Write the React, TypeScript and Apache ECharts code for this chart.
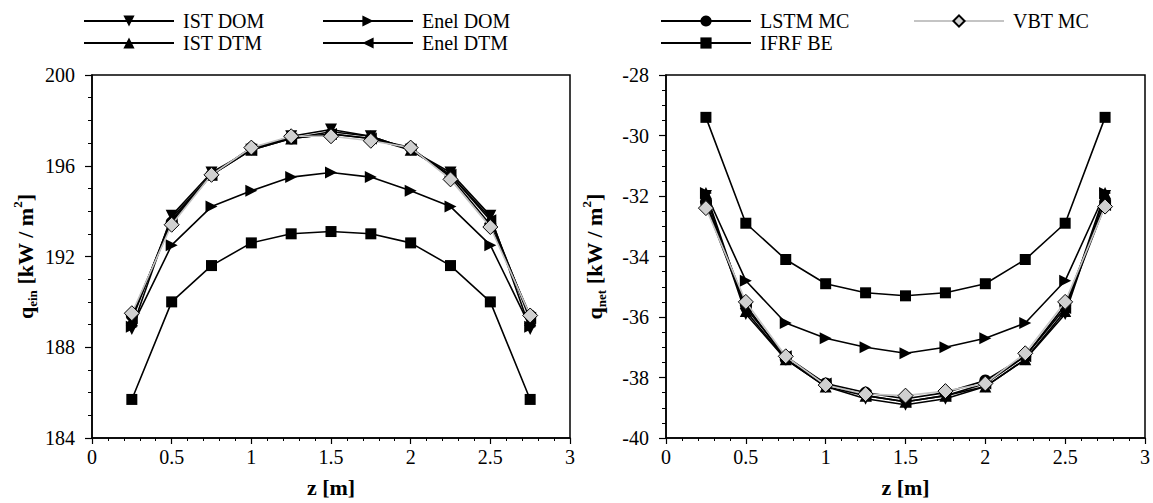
import React, { useEffect, useRef } from "react";
import * as echarts from "echarts";

const zValues = [0.25, 0.5, 0.75, 1.0, 1.25, 1.5, 1.75, 2.0, 2.25, 2.5, 2.75];

const seriesNames = ["IST DOM", "IST DTM", "Enel DOM", "Enel DTM", "LSTM MC", "IFRF BE", "VBT MC"];

// Left panel: q_ein [kW/m2]
const einIstDom = [188.8, 193.8, 195.7, 196.7, 197.3, 197.6, 197.3, 196.7, 195.7, 193.8, 188.8];
const einIstDtm = [189.2, 193.7, 195.6, 196.7, 197.2, 197.5, 197.3, 196.7, 195.6, 193.7, 189.2];
const einEnelDom = [188.9, 192.5, 194.2, 194.9, 195.5, 195.7, 195.5, 194.9, 194.2, 192.5, 188.9];
const einEnelDtm = [189.3, 193.6, 195.6, 196.7, 197.2, 197.4, 197.2, 196.7, 195.6, 193.6, 189.3];
const einLstmMc = [189.4, 193.5, 195.6, 196.8, 197.2, 197.4, 197.2, 196.8, 195.5, 193.4, 189.4];
const einIfrfBe = [185.7, 190.0, 191.6, 192.6, 193.0, 193.1, 193.0, 192.6, 191.6, 190.0, 185.7];
const einVbtMc = [189.5, 193.4, 195.6, 196.8, 197.3, 197.3, 197.1, 196.8, 195.4, 193.3, 189.4];

// Right panel: q_net [kW/m2]
const netIstDom = [-32.0, -35.9, -37.4, -38.3, -38.7, -38.9, -38.7, -38.3, -37.4, -35.9, -32.0];
const netIstDtm = [-31.9, -35.8, -37.4, -38.3, -38.6, -38.8, -38.6, -38.3, -37.4, -35.8, -31.9];
const netEnelDom = [-31.9, -34.8, -36.2, -36.7, -37.0, -37.2, -37.0, -36.7, -36.2, -34.8, -31.9];
const netEnelDtm = [-32.3, -35.7, -37.3, -38.2, -38.6, -38.8, -38.6, -38.2, -37.3, -35.7, -32.3];
const netLstmMc = [-32.2, -35.6, -37.4, -38.2, -38.5, -38.7, -38.5, -38.1, -37.3, -35.6, -32.2];
const netIfrfBe = [-29.4, -32.9, -34.1, -34.9, -35.2, -35.3, -35.2, -34.9, -34.1, -32.9, -29.4];
const netVbtMc = [-32.4, -35.5, -37.3, -38.25, -38.55, -38.6, -38.45, -38.2, -37.2, -35.5, -32.35];

const xTicks = { min: 0, max: 3, interval: 0.5 };
const leftTicks = { min: 184, max: 200, interval: 4 };
const rightTicks = { min: -40, max: -28, interval: 2 };

const FONT = "Liberation Serif";

type Style = {
  symbol: string;
  size: number;
  rotate: number;
  fill: string;
  lineColor: string;
};

const styles: Record<string, Style> = {
  "IST DOM": { symbol: "triangle", size: 12, rotate: 180, fill: "#000", lineColor: "#000" },
  "IST DTM": { symbol: "triangle", size: 12, rotate: 0, fill: "#000", lineColor: "#000" },
  "Enel DOM": { symbol: "triangle", size: 12, rotate: -90, fill: "#000", lineColor: "#000" },
  "Enel DTM": { symbol: "triangle", size: 12, rotate: 90, fill: "#000", lineColor: "#000" },
  "LSTM MC": { symbol: "circle", size: 12, rotate: 0, fill: "#000", lineColor: "#000" },
  "IFRF BE": { symbol: "rect", size: 11, rotate: 0, fill: "#000", lineColor: "#000" },
  "VBT MC": { symbol: "diamond", size: 15, rotate: 0, fill: "#d0d0d0", lineColor: "#c4c4c4" },
};

function makeSeries(name: string, values: number[], idx: number) {
  const s = styles[name];
  return {
    name,
    type: "line",
    xAxisIndex: idx,
    yAxisIndex: idx,
    data: zValues.map((z, i) => [z, values[i]]),
    symbol: s.symbol,
    symbolSize: s.size,
    symbolRotate: s.rotate,
    showAllSymbol: true,
    lineStyle: { color: s.lineColor, width: 1.6 },
    itemStyle: {
      color: s.fill,
      borderColor: "#000",
      borderWidth: name === "VBT MC" ? 1 : 0,
    },
    emphasis: { disabled: true },
    z: name === "VBT MC" ? 5 : 3,
  };
}

const axisLabelStyle = { fontFamily: FONT, fontSize: 20, color: "#000" };

function xAxisDef(gridIndex: number) {
  return {
    type: "value",
    gridIndex,
    min: xTicks.min,
    max: xTicks.max,
    interval: xTicks.interval,
    name: "z [m]",
    nameLocation: "middle",
    nameGap: 38,
    nameTextStyle: { fontFamily: FONT, fontSize: 22, fontWeight: "bold", color: "#000" },
    axisLine: { show: true, lineStyle: { color: "#000", width: 1.5 } },
    axisTick: { show: true, inside: false, length: 6, lineStyle: { color: "#000", width: 1.2 } },
    minorTick: { show: true, splitNumber: 5, length: 3, lineStyle: { color: "#000", width: 1 } },
    splitLine: { show: false },
    axisLabel: { ...axisLabelStyle, margin: 9 },
  };
}

function yAxisDef(gridIndex: number, t: { min: number; max: number; interval: number }, sub: string, gap: number) {
  return {
    type: "value",
    gridIndex,
    min: t.min,
    max: t.max,
    interval: t.interval,
    name: `{b|q}{s|${sub}}{b| [kW / m}{p|2}{b|]}`,
    nameLocation: "middle",
    nameGap: gap,
    nameRotate: 90,
    nameTextStyle: {
      fontFamily: FONT,
      color: "#000",
      rich: {
        b: { fontFamily: FONT, fontSize: 22, fontWeight: "bold", color: "#000", lineHeight: 28, verticalAlign: "middle" },
        s: { fontFamily: FONT, fontSize: 13, fontWeight: "bold", color: "#000", lineHeight: 28, verticalAlign: "bottom", padding: [8, 0, 0, 0] },
        p: { fontFamily: FONT, fontSize: 13, fontWeight: "bold", color: "#000", lineHeight: 28, verticalAlign: "top", padding: [0, 0, 8, 0] },
      },
    },
    axisLine: { show: true, lineStyle: { color: "#000", width: 1.5 } },
    axisTick: { show: true, inside: false, length: 7, lineStyle: { color: "#000", width: 1.2 } },
    minorTick: { show: true, splitNumber: 4, length: 4, lineStyle: { color: "#000", width: 1 } },
    splitLine: { show: false },
    axisLabel: { ...axisLabelStyle, margin: 17 },
  };
}

function legendDef(names: string[], left: number) {
  return {
    orient: "vertical",
    left,
    top: 11,
    padding: 0,
    data: names,
    itemWidth: 90,
    itemHeight: 14,
    itemGap: 2,
    selectedMode: false,
    textStyle: { fontFamily: FONT, fontSize: 20, color: "#000", padding: [0, 0, 0, 4] },
  };
}

export default function App() {
  const ref = useRef<HTMLDivElement>(null);
  useEffect(() => {
    if (!ref.current) return;
    const chart = echarts.init(ref.current, null, { renderer: "svg" });
    const leftData: Record<string, number[]> = {
      "IST DOM": einIstDom,
      "IST DTM": einIstDtm,
      "Enel DOM": einEnelDom,
      "Enel DTM": einEnelDtm,
      "LSTM MC": einLstmMc,
      "IFRF BE": einIfrfBe,
      "VBT MC": einVbtMc,
    };
    const rightData: Record<string, number[]> = {
      "IST DOM": netIstDom,
      "IST DTM": netIstDtm,
      "Enel DOM": netEnelDom,
      "Enel DTM": netEnelDtm,
      "LSTM MC": netLstmMc,
      "IFRF BE": netIfrfBe,
      "VBT MC": netVbtMc,
    };
    const series: any[] = [];
    seriesNames.forEach((n) => series.push(makeSeries(n, leftData[n], 0)));
    seriesNames.forEach((n) => series.push(makeSeries(n, rightData[n], 1)));

    chart.setOption({
      animation: false,
      backgroundColor: "#fff",
      textStyle: { fontFamily: FONT },
      legend: [
        legendDef(["IST DOM", "IST DTM"], 83),
        legendDef(["Enel DOM", "Enel DTM"], 322),
        legendDef(["LSTM MC", "IFRF BE"], 660),
        legendDef(["VBT MC"], 913),
      ],
      grid: [
        { left: 92, top: 75, width: 478, height: 365, show: true, borderColor: "#000", borderWidth: 1.5, backgroundColor: "transparent" },
        { left: 666, top: 75, width: 479, height: 365, show: true, borderColor: "#000", borderWidth: 1.5, backgroundColor: "transparent" },
      ],
      xAxis: [xAxisDef(0), xAxisDef(1)],
      yAxis: [yAxisDef(0, leftTicks, "ein", 53), yAxisDef(1, rightTicks, "net", 58)],
      series,
    });
    return () => chart.dispose();
  }, []);
  return (
    <div
      ref={ref}
      style={{ position: "absolute", left: 0, top: 0, width: 1153, height: 503, background: "#fff" }}
    />
  );
}
